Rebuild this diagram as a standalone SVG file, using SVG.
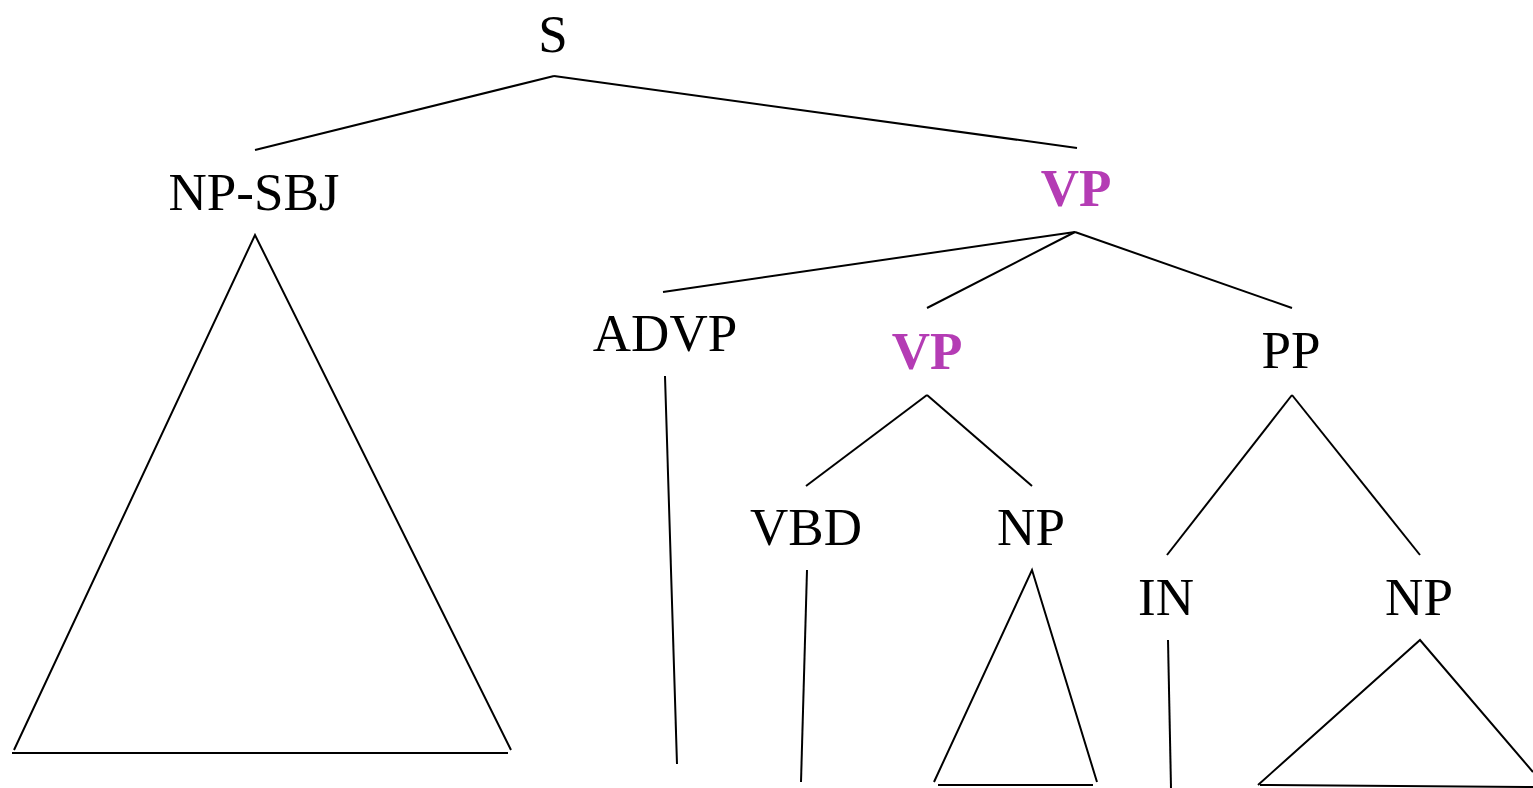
<svg xmlns="http://www.w3.org/2000/svg" width="1533" height="788" viewBox="0 0 1533 788">
<style>
text{font-family:"Liberation Serif","Times New Roman",serif;font-size:53px;text-anchor:middle;fill:#000}
.hl{fill:#b43cb4;font-weight:bold}
.e line,.e polyline{stroke:#000;stroke-width:2;fill:none}
</style>
<rect width="1533" height="788" fill="#fff"/>
<g id="n-S"><text x="553" y="52">S</text></g>
<g id="n-NPSBJ"><text x="254" y="210">NP-SBJ</text></g>
<g id="n-VP1"><text class="hl" x="1076" y="206">VP</text></g>
<g id="n-ADVP"><text x="665" y="351">ADVP</text></g>
<g id="n-VP2"><text class="hl" x="927" y="369">VP</text></g>
<g id="n-PP"><text x="1291" y="368">PP</text></g>
<g id="n-VBD"><text x="806" y="545">VBD</text></g>
<g id="n-NP1"><text x="1031" y="545">NP</text></g>
<g id="n-IN"><text x="1166" y="615">IN</text></g>
<g id="n-NP2"><text x="1419" y="615">NP</text></g>
<g id="edges" class="e">
<line x1="554" y1="76" x2="255" y2="150"/>
<line x1="554" y1="76" x2="1077" y2="148"/>
<line x1="1075" y1="232" x2="663" y2="292"/>
<line x1="1075" y1="232" x2="927" y2="308"/>
<line x1="1075" y1="232" x2="1292" y2="308"/>
<polyline points="14,750 255,235 511,750"/>
<line x1="12" y1="753" x2="508" y2="753"/>
<line x1="665" y1="376" x2="677" y2="764"/>
<line x1="927" y1="395" x2="806" y2="486"/>
<line x1="927" y1="395" x2="1032" y2="486"/>
<line x1="807" y1="570" x2="801" y2="782"/>
<polyline points="934,782 1032,570 1097,782"/>
<line x1="938" y1="785" x2="1093" y2="785"/>
<line x1="1292" y1="395" x2="1167" y2="555"/>
<line x1="1292" y1="395" x2="1420" y2="555"/>
<line x1="1168" y1="640" x2="1171" y2="788"/>
<polyline points="1258,785 1420,640 1533,772"/>
<line x1="1260" y1="785" x2="1533" y2="787"/>
</g>
</svg>
